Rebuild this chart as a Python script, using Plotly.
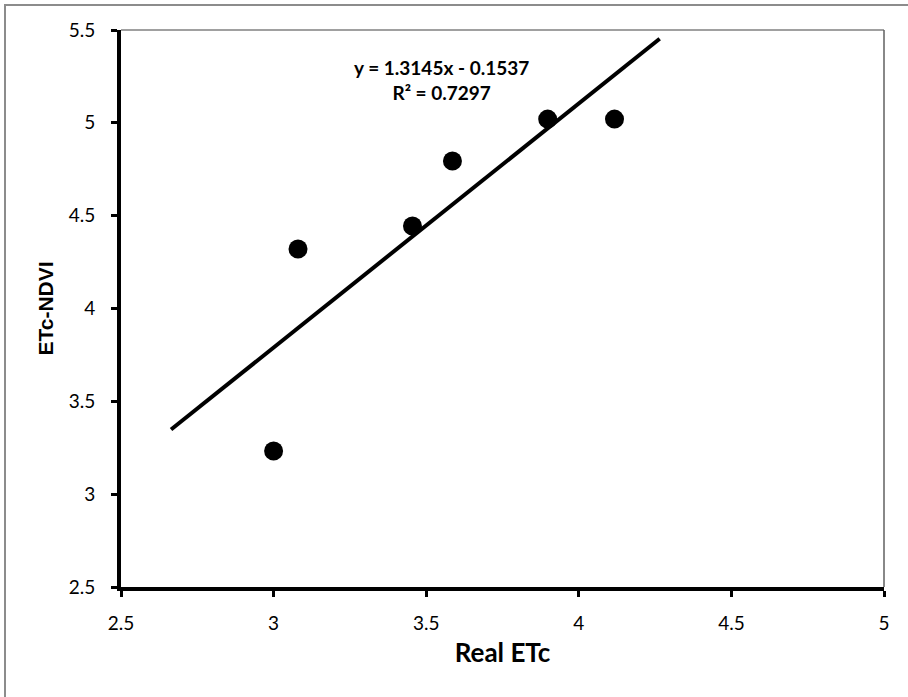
import plotly.graph_objects as go

real_etc = [3.00, 3.08, 3.455, 3.586, 3.898, 4.117]
etc_ndvi = [3.233, 4.32, 4.444, 4.794, 5.02, 5.02]

slope = 1.3145
intercept = -0.1537
r2 = 0.7297
trend_x = [2.664, 4.265]
trend_y = [slope * v + intercept for v in trend_x]

tick_vals = [2.5, 3, 3.5, 4, 4.5, 5]
ytick_vals = [2.5, 3, 3.5, 4, 4.5, 5, 5.5]

fig = go.Figure()
fig.add_trace(go.Scatter(x=trend_x, y=trend_y, mode="lines",
                         line=dict(color="black", width=4), showlegend=False))
fig.add_trace(go.Scatter(x=real_etc, y=etc_ndvi, mode="markers",
                         marker=dict(color="black", size=19), showlegend=False))

fig.add_annotation(x=0.42, y=0.91, xref="paper", yref="paper",
                   xanchor="center", yanchor="middle",
                   text="<b>y = 1.3145x - 0.1537</b><br><b>R² = %.4f</b>" % r2,
                   showarrow=False, align="center",
                   font=dict(family="Lato", size=19, color="black"))

fig.update_layout(
    width=908, height=697,
    margin=dict(l=121, r=24, t=30, b=110),
    paper_bgcolor="white", plot_bgcolor="white",
    font=dict(family="Lato", color="black"),
    xaxis=dict(range=[2.5, 5], tickvals=tick_vals, ticktext=[str(v) for v in tick_vals],
               showgrid=False, zeroline=False, showline=True, linecolor="black", linewidth=4,
               ticks="outside", ticklen=6, tickwidth=3, tickcolor="black",
               ticklabelstandoff=10,
               tickfont=dict(size=19, family="Lato"),
               title=dict(text="<b>Real ETc</b>", font=dict(size=26, family="Lato"), standoff=12)),
    yaxis=dict(range=[2.5, 5.5], tickvals=ytick_vals, ticktext=[str(v) for v in ytick_vals],
               showgrid=False, zeroline=False, showline=True, linecolor="black", linewidth=4,
               ticks="outside", ticklen=6, tickwidth=3, tickcolor="black",
               ticklabelstandoff=12,
               tickfont=dict(size=19, family="Lato"),
               title=dict(text="<b>ETc-NDVI</b>", font=dict(size=21, family="Liberation Sans"), standoff=10)),
)

# thin grey plot-area border (top and right)
fig.add_shape(type="line", xref="paper", yref="paper", x0=0, x1=1, y0=1, y1=1,
              line=dict(color="#808080", width=1.5), layer="below")
fig.add_shape(type="line", xref="paper", yref="paper", x0=1, x1=1, y0=0, y1=1,
              line=dict(color="#606060", width=1.5), layer="below")
# outer chart frame
fig.add_shape(type="rect", xref="paper", yref="paper",
              x0=(5 - 121) / 763, x1=1.2, y0=(587 - 5) / 557, y1=-0.4,
              line=dict(color="#8c8c8c", width=2), fillcolor="rgba(0,0,0,0)")

fig.write_html("out.html", config={"displayModeBar": False},
               post_script="document.body.style.margin='0';document.body.style.overflow='hidden';")
